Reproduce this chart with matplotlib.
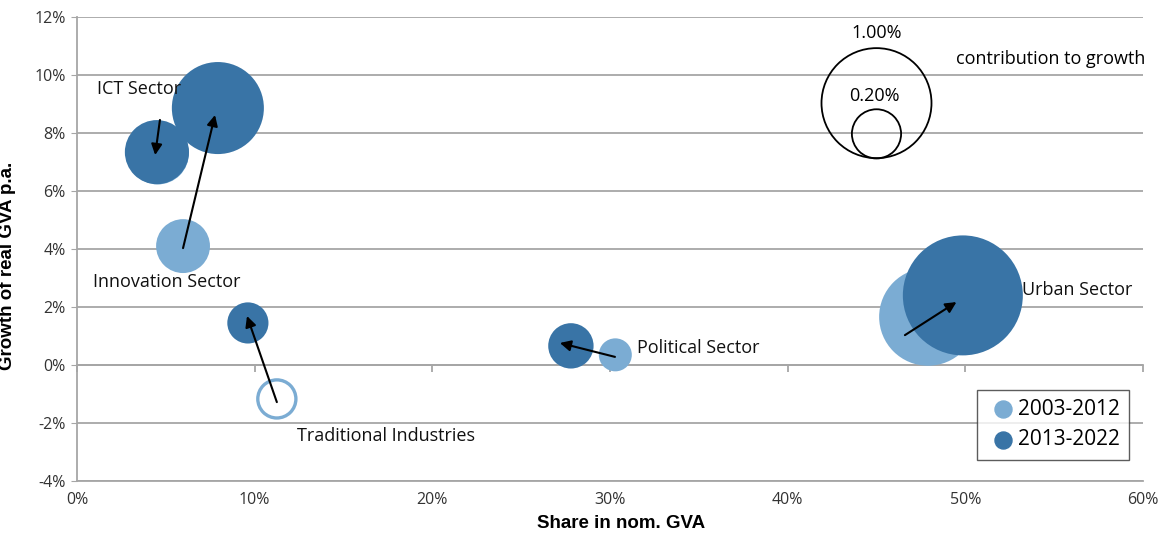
import matplotlib
matplotlib.use("Agg")
import matplotlib.pyplot as plt
from matplotlib.ticker import FuncFormatter
import numpy as np

plt.rcParams['font.family'] = ['Open Sans', 'DejaVu Sans']

LIGHT = "#7BACD3"
DARK = "#3974A6"

sectors = ["ICT Sector", "Innovation Sector", "Traditional Industries", "Political Sector", "Urban Sector"]

# 2003-2012: share in nominal GVA (%), growth of real GVA p.a. (%), contribution to growth (%)
share_0312 = [4.55, 5.97, 11.25, 30.3, 47.9]
growth_0312 = [7.30, 4.10, -1.17, 0.35, 1.66]
contrib_0312 = [0.32, 0.24, -0.12, 0.09, 0.79]

# 2013-2022
share_1322 = [4.5, 7.93, 9.62, 27.8, 49.86]
growth_1322 = [7.34, 8.86, 1.45, 0.66, 2.40]
contrib_1322 = [0.34, 0.70, 0.14, 0.17, 1.19]

# arrows: from old period to new period (as drawn in the original)
arrow_start = [(4.67, 8.45), (5.97, 4.03), (11.25, -1.28), (30.28, 0.28), (46.6, 1.03)]
arrow_end = [(4.4, 7.24), (7.77, 8.62), (9.57, 1.69), (27.18, 0.76), (49.5, 2.17)]

# sector label positions
label_pos = [(1.1, 9.5), (0.9, 2.85), (12.4, -2.45), (31.5, 0.6), (53.2, 2.6)]

# reference bubbles for the size key
key_values = [1.00, 0.20]
key_x = [45.0, 45.0]
key_y = [9.03, 7.97]

def bubble_size(c):
    # radius 55 px for 1.00 % contribution, area proportional to value
    r_px = 55 * np.sqrt(abs(c))
    return (2 * r_px * 0.72) ** 2

fig = plt.figure(figsize=(11.68, 5.36), dpi=100)
ax = fig.add_axes([0.0659, 0.1026, 0.9127, 0.8657])

ax.set_xlim(0, 60)
ax.set_ylim(-4, 12)
ax.set_xticks(np.arange(0, 61, 10))
ax.set_yticks(np.arange(-4, 13, 2))
ax.xaxis.set_major_formatter(FuncFormatter(lambda v, p: "%d%%" % v))
ax.yaxis.set_major_formatter(FuncFormatter(lambda v, p: "%d%%" % v))
ax.grid(axis="y", color="#A6A6A6", linewidth=1.3)
ax.set_axisbelow(True)
for s in ["top", "right"]:
    ax.spines[s].set_visible(False)
for s in ["left", "bottom"]:
    ax.spines[s].set_color("#A6A6A6")
    ax.spines[s].set_linewidth(1.3)
ax.tick_params(axis="x", length=0, pad=8, labelsize=11.5, labelcolor="#333333")
ax.tick_params(axis="y", length=4, color="#A6A6A6", pad=4, labelsize=11.5, labelcolor="#333333")

# horizontal axis line at 0 with ticks
sec = ax.secondary_xaxis(0.25)
sec.set_xticks(np.arange(0, 61, 10))
sec.tick_params(axis="x", length=5, color="#A6A6A6", labelbottom=False, width=1.3)
sec.spines["bottom"].set_color("#A6A6A6")
sec.spines["bottom"].set_linewidth(1.3)

# 2003-2012 bubbles (hollow if contribution negative)
sizes_old = [bubble_size(c) for c in contrib_0312]
faces_old = [LIGHT if c >= 0 else "white" for c in contrib_0312]
ax.scatter(share_0312, growth_0312, s=sizes_old, c=faces_old, edgecolors=LIGHT,
           linewidths=[0 if c >= 0 else 2.4 for c in contrib_0312], zorder=3)
# 2013-2022 bubbles
sizes_new = [bubble_size(c) for c in contrib_1322]
ax.scatter(share_1322, growth_1322, s=sizes_new, c=DARK, linewidths=0, zorder=4)

# legend handles
ax.scatter([], [], s=150, c=LIGHT, label="2003-2012")
ax.scatter([], [], s=150, c=DARK, label="2013-2022")

for st, en in zip(arrow_start, arrow_end):
    ax.annotate("", xy=en, xytext=st,
                arrowprops=dict(arrowstyle="-|>", color="black", lw=1.5,
                                mutation_scale=16, shrinkA=0, shrinkB=0), zorder=6)

for name, (lx, ly) in zip(sectors, label_pos):
    ax.text(lx, ly, name, fontsize=13, color="#111111", va="center", ha="left", zorder=7)

# size key
ax.scatter(key_x, key_y, s=[bubble_size(v) for v in key_values], facecolors="none",
           edgecolors="black", linewidths=1.3, zorder=5)
ax.text(45.0, 11.45, "1.00%", fontsize=13, ha="center", va="center")
ax.text(44.9, 9.26, "0.20%", fontsize=13, ha="center", va="center")
ax.text(49.5, 10.55, "contribution to growth", fontsize=13, ha="left", va="center")

leg = ax.legend(loc="lower right", bbox_to_anchor=(0.987, 0.046), fontsize=15,
                frameon=True, fancybox=False, handletextpad=-0.1, borderpad=0.45,
                labelspacing=0.45, handlelength=1.6, borderaxespad=0)
leg.get_frame().set_edgecolor("#333333")
leg.get_frame().set_linewidth(1.0)

ax.set_xlabel("Share in nom. GVA", fontsize=13.5, fontweight="bold",
              family=["Liberation Sans", "DejaVu Sans"])
ax.xaxis.set_label_coords(0.51, -0.073)
ax.set_ylabel("Growth of real GVA p.a.", fontsize=13.5, fontweight="bold",
              family=["Liberation Sans", "DejaVu Sans"])
ax.yaxis.set_label_coords(-0.057, 0.463)

fig.savefig("out.png", dpi=100)
